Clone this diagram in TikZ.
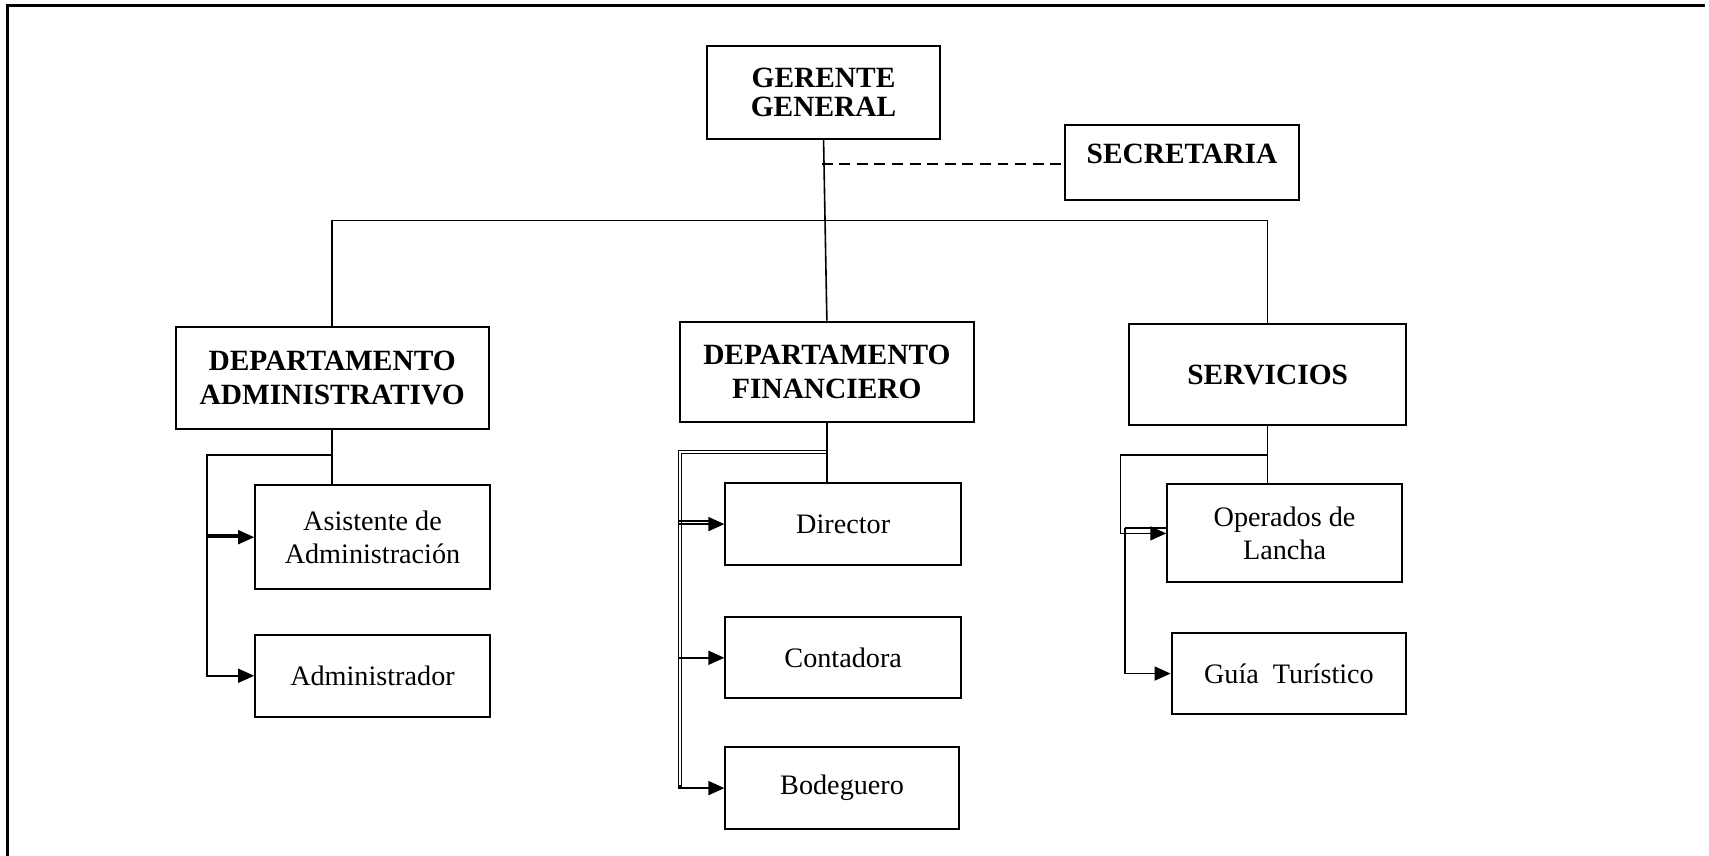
\documentclass[tikz,border=0pt]{standalone}
\usepackage{fontspec}
\setmainfont{Liberation Serif}
\usetikzlibrary{arrows.meta,positioning}
\tikzset{>={Triangle[length=8pt,width=7pt]},
    jefe/.style={rectangle, draw=black, line width=1pt, anchor=north west,
                 inner sep=0pt, align=center,
                 font=\fontsize{14.7}{16.6}\selectfont\bfseries},
    cargo/.style={rectangle, draw=black, line width=1pt, anchor=north west,
                  inner sep=0pt, align=center,
                  font=\fontsize{14.1}{16.7}\selectfont},
    linea/.style={line width=0.8pt},
    pil/.style={->, line width=0.8pt}}

\begin{document}
\begin{tikzpicture}[x=0.5455pt,y=-0.5455pt]
    \useasboundingbox (0,0) rectangle (1566.5,784.6);
    \draw[line width=1.5pt] (1562.8,4.6) -- (7.3,4.6) -- (7.3,784.6);

    % jefes
    \node[jefe, minimum width=116.7pt, minimum height=46.4pt,
          font=\fontsize{14.7}{14.7}\selectfont\bfseries]
        (gerente) at (647,41) {GERENTE\\GENERAL};
    \node[jefe, minimum width=117.3pt, text width=117.3pt,
          text height=19.1pt, text depth=18pt]
        (secretaria) at (975,114) {SECRETARIA};
    \node[jefe, minimum width=156.6pt, minimum height=50.7pt]
        (depadm) at (160,299) {DEPARTAMENTO\\ADMINISTRATIVO};
    \node[jefe, minimum width=147.3pt, minimum height=50.2pt]
        (depfin) at (622,294) {DEPARTAMENTO\\FINANCIERO};
    \node[jefe, minimum width=138.6pt, minimum height=50.7pt]
        (servicios) at (1034,296) {SERVICIOS};

    % cargos
    \node[cargo, minimum width=117.3pt, minimum height=51.8pt]
        (asistente) at (233,444) {Asistente de\\Administración};
    \node[cargo, minimum width=117.3pt, minimum height=40.9pt]
        (administrador) at (233,581) {Administrador};
    \node[cargo, minimum width=117.8pt, minimum height=40.9pt]
        (director) at (664,442) {Director};
    \node[cargo, minimum width=117.8pt, minimum height=40.4pt]
        (contadora) at (664,565) {Contadora};
    \node[cargo, minimum width=116.7pt, minimum height=40.9pt]
        (bodeguero) at (664,684) {Bodeguero};
    \node[cargo, minimum width=117.3pt, minimum height=49.1pt]
        (operador) at (1069,443) {Operados de\\Lancha};
    \node[cargo, minimum width=117.3pt, minimum height=40.9pt]
        (guia) at (1073,579) {Guía\ \ Turístico};

    \coordinate (sec) at (753,150);
    \coordinate (barra) at (754,202);
    \coordinate (admrama) at (190,417);
    \coordinate (finrama) at (622,413);
    \coordinate (serrama) at (1027,417);
    \coordinate (serrama2) at (1031,484);

    % nivel superior
    \draw[linea] (gerente.south) -- (depfin.north);
    \draw[line width=1pt, dash pattern=on 5.5pt off 3.3pt] (sec) -- (sec -| secretaria.west);
    \draw[linea] (depadm.north) |- (barra) -| (servicios.north);

    % administrativo
    \draw[linea] (depadm.south) -- (depadm.south |- asistente.north);
    \draw[pil] (depadm.south |- admrama) -- (admrama) |- (administrador.west);
    \draw[pil] (admrama |- asistente.west) -- (asistente.west);
    \draw[linea] ([yshift=1.2pt]admrama |- asistente.west)
        -- ([xshift=-6pt,yshift=1.2pt]asistente.west);

    % financiero
    \draw[linea] (depfin.south) -- (depfin.south |- director.north);
    \draw[pil] (depfin.south |- finrama) -- (finrama) |- (bodeguero.west);
    \draw[linea] ([yshift=-1.5pt]depfin.south |- finrama)
        -- ([xshift=1.5pt,yshift=-1.5pt]finrama)
        |- ([yshift=1pt]bodeguero.west -| finrama);
    \draw[pil] (finrama |- director.west) -- (director.west);
    \draw[linea] ([yshift=1.5pt]finrama |- director.west)
        -- ([xshift=-6pt,yshift=1.5pt]director.west);
    \draw[pil] (finrama |- contadora.west) -- (contadora.west);

    % servicios
    \draw[linea] (servicios.south) -- (servicios.south |- operador.north);
    \draw[pil] (servicios.south |- serrama) -- (serrama) |- (operador.west);
    \draw[linea] (serrama2) -- (serrama2 -| operador.west);
    \draw[pil] (serrama2) |- (guia.west);
\end{tikzpicture}
\end{document}
